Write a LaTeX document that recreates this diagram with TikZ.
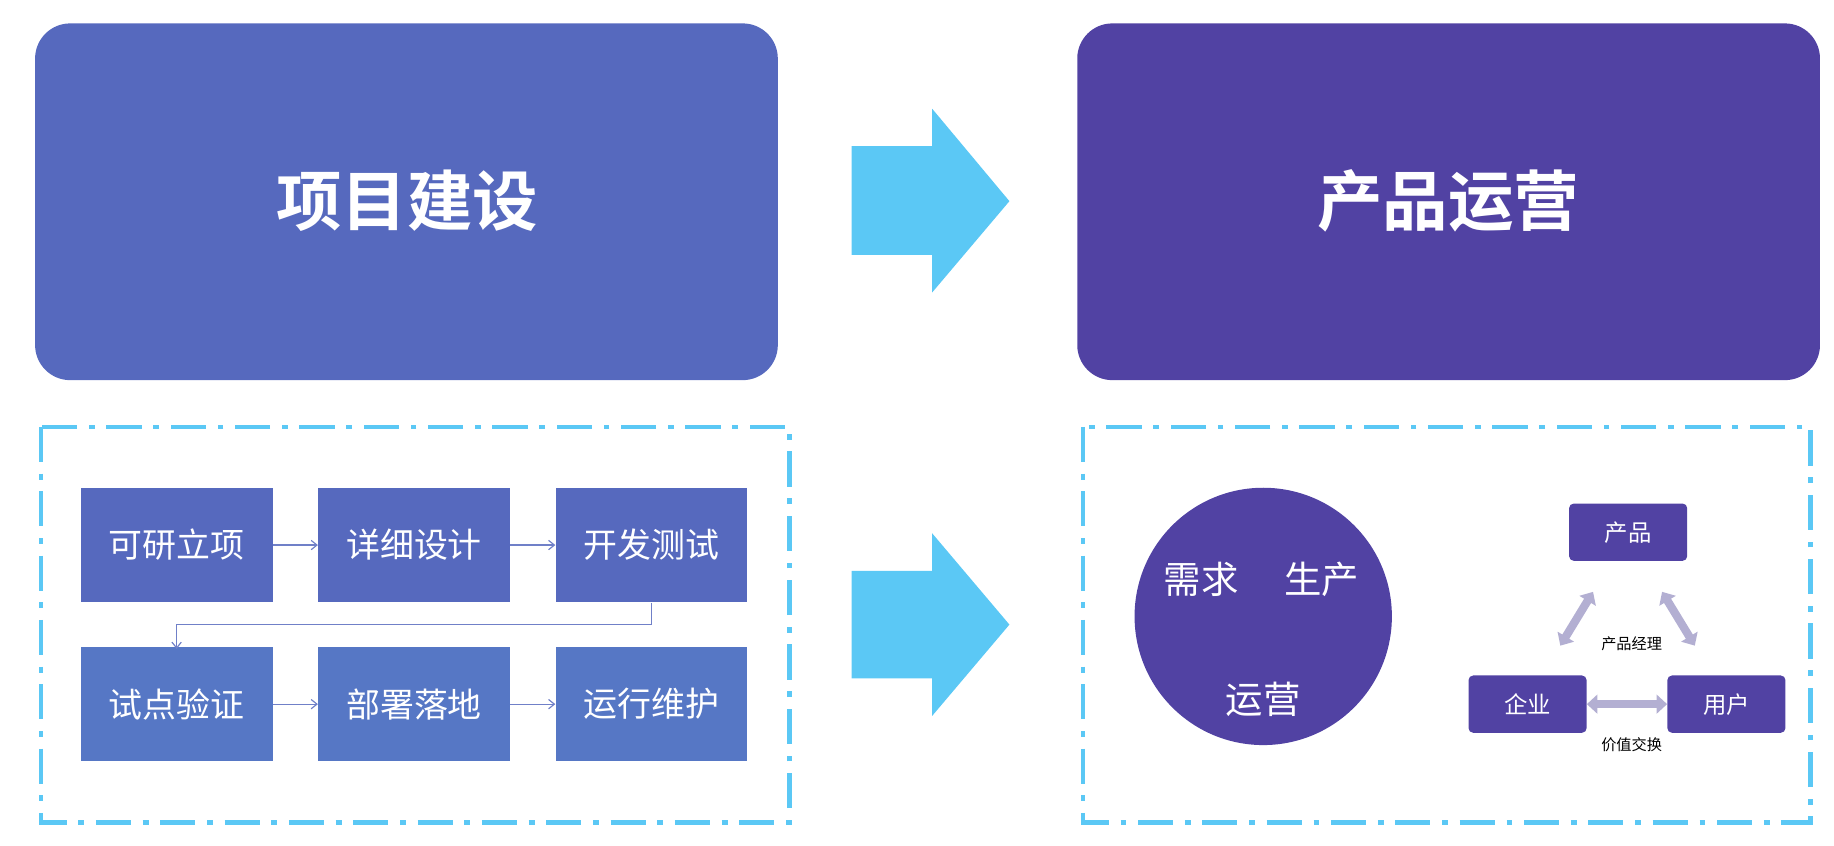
\documentclass[tikz,border=0pt]{standalone}
\usepackage{fontspec}
\newfontfamily\cjk{Noto Sans CJK SC}
\newfontfamily\cjkb{Noto Sans CJK SC Bold}
\usetikzlibrary{arrows.meta}
\definecolor{blueA}{HTML}{5669BE}
\definecolor{blueB}{HTML}{5677C5}
\definecolor{purp}{HTML}{5142A3}
\definecolor{cyanA}{HTML}{5BC8F5}
\definecolor{lav}{HTML}{B3AFD2}
\definecolor{thin}{HTML}{7080C8}
\begin{document}
\begin{tikzpicture}[x=1pt,y=-1pt,
  big/.style={rounded corners=30pt,inner sep=0pt,text=white,font=\cjkb\fontsize{56}{60}\selectfont},
  flow/.style={minimum width=164pt,minimum height=98pt,inner sep=0pt,text=white,font=\cjk\fontsize{29}{32}\selectfont},
  sbox/.style={fill=purp,rounded corners=4pt,minimum width=101pt,minimum height=49pt,inner sep=0pt,text=white,font=\cjk\fontsize{20}{24}\selectfont},
  dashbox/.style={draw=cyanA,line width=4pt,dash pattern=on 30pt off 10pt on 5pt off 10pt},
  tarr/.style={draw=thin,line width=1pt,-{Straight Barb[length=5pt,width=8pt]}},
  darr/.style={draw=lav,line width=7pt,{Triangle[length=9pt,width=16pt]}-{Triangle[length=9pt,width=16pt]}},
  bigarr/.style={fill=cyanA}]
\useasboundingbox (0,0) rectangle (1568,723);
% top boxes
\fill[blueA,rounded corners=30pt] (30,20) rectangle (665,325);
\node[text=white,font=\cjkb\fontsize{56}{60}\selectfont] (t1) at (348,172) {项目建设};
\fill[purp,rounded corners=30pt] (921,20) rectangle (1556,325);
\node[text=white,font=\cjkb\fontsize{56}{60}\selectfont] (t2) at (1238,172) {产品运营};
% big arrows
\fill[bigarr] (728,125) -- (797,125) -- (797,93) -- (863,172) -- (797,250) -- (797,218) -- (728,218) -- cycle;
\fill[bigarr] (728,488) -- (797,488) -- (797,456) -- (863,534) -- (797,612) -- (797,580) -- (728,580) -- cycle;
% dashed boxes
\draw[dashbox] (35,365) rectangle (675,703);
\draw[dashbox] (926,365) rectangle (1548,703);
% flow
\node[flow,fill=blueA] (a1) at (151,466) {可研立项};
\node[flow,fill=blueA] (a2) at (354,466) {详细设计};
\node[flow,fill=blueA] (a3) at (557,466) {开发测试};
\node[flow,fill=blueB] (b1) at (151,602) {试点验证};
\node[flow,fill=blueB] (b2) at (354,602) {部署落地};
\node[flow,fill=blueB] (b3) at (557,602) {运行维护};
\draw[tarr] (a1) -- (a2);
\draw[tarr] (a2) -- (a3);
\draw[tarr] (b1) -- (b2);
\draw[tarr] (b2) -- (b3);
\draw[tarr] (a3.south) -- ++(0,19) -| ([yshift=-2pt]b1.north);
% cycle
\coordinate (c) at (1080,527);
\fill[purp] (c) circle[radius=110];
\begin{scope}[y=1pt]
\draw[lav,line width=12pt,-{Triangle[length=14pt,width=26pt]}] (1080,196) ++(212:116) arc[start angle=212,end angle=95,radius=116];
\draw[lav,line width=12pt,-{Triangle[length=14pt,width=26pt]}] (1080,196) ++(86:116) arc[start angle=86,end angle=-31,radius=116];
\draw[lav,line width=12pt,-{Triangle[length=14pt,width=26pt]}] (1080,196) ++(-42:116) arc[start angle=-42,end angle=-148,radius=116];
\end{scope}
\begin{scope}[y=1pt]
\draw[white,line width=8pt] (1080,196) -- ++(90:128);
\draw[white,line width=8pt] (1080,196) -- ++(-37:128);
\draw[white,line width=8pt] (1080,196) -- ++(217:128);
\end{scope}
\node[text=white,font=\cjk\fontsize{32}{36}\selectfont] (x1) at (1027,495) {需求};
\node[text=white,font=\cjk\fontsize{32}{36}\selectfont] (x2) at (1130,495) {生产};
\node[text=white,font=\cjk\fontsize{32}{36}\selectfont] (x3) at (1080,598) {运营};
% triangle
\node[sbox] (p) at (1392,455) {产品};
\node[sbox] (q) at (1306,602) {企业};
\node[sbox] (u) at (1476,602) {用户};
\coordinate (p1) at (1362,506); \coordinate (p2) at (1334,552);
\coordinate (p3) at (1421,506); \coordinate (p4) at (1449,552);
\draw[darr] (p1) -- (p2);
\draw[darr] (p3) -- (p4);
\draw[darr] (q) -- (u);
\node[font=\cjk\fontsize{13}{15}\selectfont] (l1) at (1395,550) {产品经理};
\node[font=\cjk\fontsize{13}{15}\selectfont] (l2) at (1395,637) {价值交换};
\end{tikzpicture}
\end{document}
